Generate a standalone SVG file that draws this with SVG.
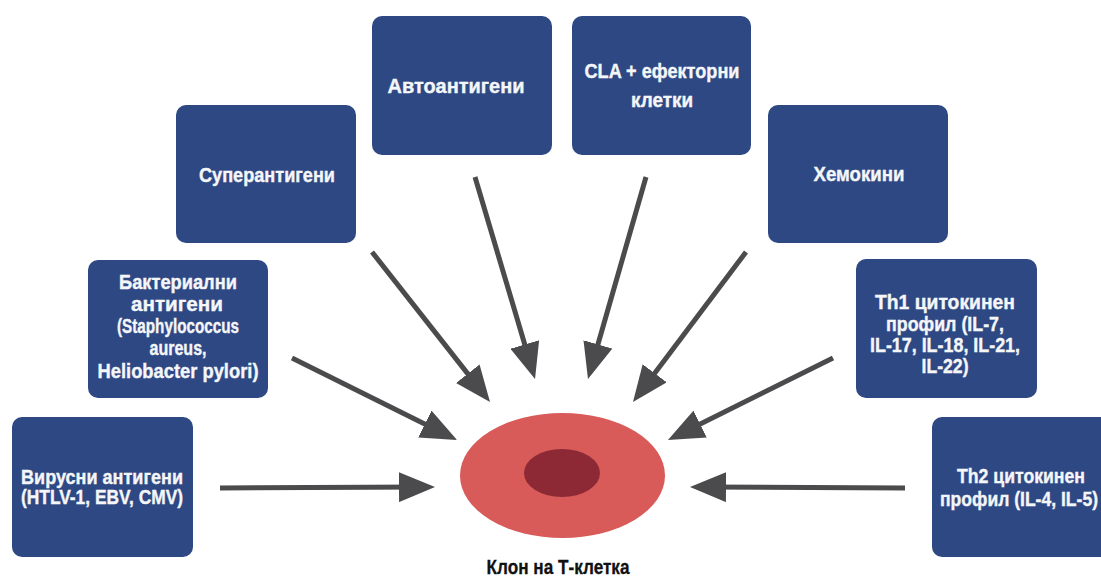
<svg xmlns="http://www.w3.org/2000/svg" width="1101" height="578" viewBox="0 0 1101 578">
<style>
.box{fill:#2e4884;}
.t{font-family:"Liberation Sans",Arial,sans-serif;font-weight:bold;font-size:21px;fill:#f4f6f8;stroke:#f4f6f8;stroke-width:0.4;text-anchor:middle;}
.lbl{font-family:"Liberation Sans",Arial,sans-serif;font-weight:bold;font-size:21px;fill:#111;stroke:#111;stroke-width:0.3;text-anchor:middle;}
.arr{stroke:#4b4b4d;stroke-width:5;fill:none;marker-end:url(#ah);}
</style>
<defs>
<marker id="ah" markerUnits="userSpaceOnUse" viewBox="0 0 36 30" markerWidth="36" markerHeight="30" refX="24" refY="15" orient="auto">
<path d="M0,0 L36,15 L0,30 Z" fill="#4b4b4d"/>
</marker>
</defs>
<rect width="1101" height="578" fill="#ffffff"/>

<g id="connectors">
<line class="arr" x1="220" y1="488" x2="423" y2="487"/>
<line class="arr" x1="292" y1="358" x2="446.3" y2="434.7"/>
<line class="arr" x1="372" y1="252" x2="482.6" y2="392.6"/>
<line class="arr" x1="475" y1="177" x2="531.6" y2="367.5"/>
<line class="arr" x1="646" y1="177" x2="591.3" y2="367.5"/>
<line class="arr" x1="746" y1="252" x2="640.2" y2="392.4"/>
<line class="arr" x1="833" y1="358" x2="678.7" y2="434.7"/>
<line class="arr" x1="905" y1="488" x2="702" y2="487"/>
</g>

<g id="node-viral">
<rect class="box" x="12" y="417" width="181" height="140" rx="10"/>
<text class="t" x="102" y="484" textLength="162" lengthAdjust="spacingAndGlyphs">Вирусни антигени</text>
<text class="t" x="102" y="504" textLength="162" lengthAdjust="spacingAndGlyphs">(HTLV-1, EBV, CMV)</text>
</g>

<g id="node-bacterial">
<rect class="box" x="88" y="260" width="180" height="138" rx="10"/>
<text class="t" x="178" y="289" textLength="118" lengthAdjust="spacingAndGlyphs">Бактериални</text>
<text class="t" x="177" y="311" textLength="92" lengthAdjust="spacingAndGlyphs">антигени</text>
<text class="t" x="178" y="333" textLength="122" lengthAdjust="spacingAndGlyphs">(Staphylococcus</text>
<text class="t" x="178" y="355" textLength="57" lengthAdjust="spacingAndGlyphs">aureus,</text>
<text class="t" x="178" y="378" textLength="161" lengthAdjust="spacingAndGlyphs">Heliobacter pylori)</text>
</g>

<g id="node-superantigens">
<rect class="box" x="176" y="105" width="180" height="138" rx="10"/>
<text class="t" x="267" y="182" textLength="136" lengthAdjust="spacingAndGlyphs">Суперантигени</text>
</g>

<g id="node-autoantigens">
<rect class="box" x="372" y="16" width="180" height="139" rx="10"/>
<text class="t" x="456" y="93" textLength="137" lengthAdjust="spacingAndGlyphs">Автоантигени</text>
</g>

<g id="node-cla">
<rect class="box" x="572" y="16" width="179" height="139" rx="10"/>
<text class="t" x="662" y="78" textLength="155" lengthAdjust="spacingAndGlyphs">CLA + ефекторни</text>
<text class="t" x="662" y="107" textLength="62" lengthAdjust="spacingAndGlyphs">клетки</text>
</g>

<g id="node-chemokines">
<rect class="box" x="768" y="105" width="180" height="138" rx="10"/>
<text class="t" x="859" y="181" textLength="91" lengthAdjust="spacingAndGlyphs">Хемокини</text>
</g>

<g id="node-th1">
<rect class="box" x="856" y="259" width="181" height="139" rx="10"/>
<text class="t" x="945" y="309" textLength="140" lengthAdjust="spacingAndGlyphs">Th1 цитокинен</text>
<text class="t" x="945" y="331" textLength="118" lengthAdjust="spacingAndGlyphs">профил (IL-7,</text>
<text class="t" x="945" y="352" textLength="150" lengthAdjust="spacingAndGlyphs">IL-17, IL-18, IL-21,</text>
<text class="t" x="945" y="373" textLength="47" lengthAdjust="spacingAndGlyphs">IL-22)</text>
</g>

<g id="node-th2">
<rect class="box" x="932" y="417" width="180" height="140" rx="10"/>
<text class="t" x="1021" y="483" textLength="128" lengthAdjust="spacingAndGlyphs">Th2 цитокинен</text>
<text class="t" x="1019" y="506" textLength="158" lengthAdjust="spacingAndGlyphs">профил (IL-4, IL-5)</text>
</g>

<g id="node-tcell">
<ellipse cx="562.5" cy="475.5" rx="102.5" ry="62.5" fill="#d85a59"/>
<ellipse cx="562" cy="473" rx="38" ry="24" fill="#8c2935"/>
<text class="lbl" x="558" y="574" textLength="143" lengthAdjust="spacingAndGlyphs">Клон на Т-клетка</text>
</g>
</svg>
